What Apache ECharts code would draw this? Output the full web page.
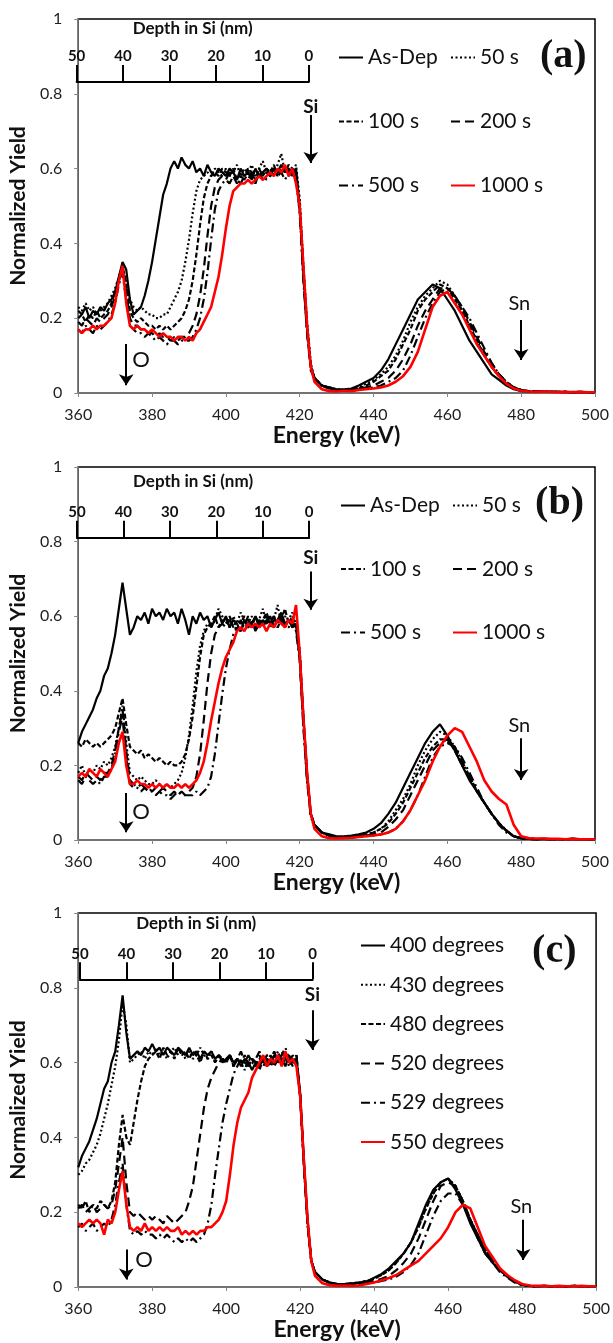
<!DOCTYPE html>
<html>
<head>
<meta charset="utf-8">
<script src="https://cdn.jsdelivr.net/npm/echarts@6/dist/echarts.min.js"></script>
<style>
html,body{margin:0;padding:0;background:#fff;}
#chart{width:613px;height:1343px;}
</style>
</head>
<body>
<div id="chart"></div>
<script>
// Energy grid (keV)
const E = [360,361,362,363,364,365,366,367,368,369,
370,371,372,373,374,375,376,377,378,379,
380,381,382,383,384,385,386,387,388,389,
390,391,392,393,394,395,396,397,398,399,
400,401,402,403,404,405,406,407,408,409,
410,411,412,413,414,415,416,417,418,419,
420,421,422,423,424,425,
426,428,430,432,434,436,438,440,442,444,
446,448,450,452,454,456,458,460,462,464,
466,468,470,472,474,476,478,480,482,484,
486,488,490,492,494,496,498,500];

// ---------- Panel (a) ----------
const A_ASDEP = [
0.22,0.21,0.23,0.20,0.22,0.21,0.23,0.22,0.24,0.25,
0.27,0.31,0.35,0.33,0.25,0.21,0.22,0.23,0.26,0.30,
0.35,0.41,0.47,0.53,0.56,0.60,0.62,0.60,0.63,0.61,
0.60,0.62,0.59,0.60,0.58,0.61,0.59,0.58,0.60,0.59,
0.58,0.60,0.59,0.57,0.60,0.58,0.59,0.57,0.60,0.58,
0.59,0.60,0.58,0.60,0.59,0.61,0.59,0.60,0.58,0.60,
0.50,0.33,0.18,0.07,0.04,0.03,
0.02,0.015,0.01,0.01,0.012,0.02,0.03,0.04,0.06,0.09,
0.13,0.17,0.21,0.25,0.27,0.29,0.28,0.25,0.22,0.18,
0.14,0.11,0.08,0.05,0.035,0.02,0.01,0.005,0.004,0.003,
0.004,0.003,0.003,0.002,0.003,0.002,0.002,0.002];
const A_50 = [
0.23,0.22,0.24,0.22,0.23,0.21,0.22,0.23,0.24,0.26,
0.28,0.31,0.33,0.30,0.25,0.23,0.22,0.23,0.22,0.21,
0.21,0.20,0.20,0.21,0.21,0.23,0.25,0.27,0.30,0.35,
0.41,0.48,0.54,0.57,0.58,0.59,0.58,0.60,0.59,0.58,
0.60,0.58,0.59,0.61,0.58,0.60,0.59,0.61,0.58,0.60,
0.62,0.59,0.60,0.58,0.61,0.64,0.59,0.60,0.59,0.61,
0.52,0.34,0.19,0.08,0.04,0.03,
0.02,0.015,0.01,0.008,0.01,0.015,0.025,0.035,0.05,0.07,
0.10,0.14,0.19,0.23,0.26,0.28,0.30,0.29,0.26,0.22,
0.18,0.14,0.10,0.07,0.045,0.025,0.015,0.008,0.005,0.004,
0.004,0.003,0.003,0.003,0.002,0.003,0.002,0.002];
const A_100 = [
0.20,0.21,0.19,0.21,0.20,0.22,0.20,0.21,0.22,0.24,
0.27,0.31,0.34,0.29,0.22,0.20,0.19,0.20,0.19,0.18,
0.18,0.17,0.18,0.17,0.18,0.17,0.18,0.19,0.20,0.22,
0.25,0.30,0.37,0.45,0.52,0.56,0.58,0.59,0.58,0.60,
0.59,0.58,0.60,0.57,0.59,0.58,0.60,0.59,0.57,0.60,
0.58,0.60,0.59,0.61,0.58,0.60,0.59,0.61,0.60,0.59,
0.50,0.32,0.17,0.07,0.04,0.03,
0.02,0.012,0.008,0.008,0.01,0.012,0.02,0.03,0.045,0.06,
0.09,0.13,0.17,0.22,0.25,0.27,0.29,0.28,0.25,0.22,
0.18,0.14,0.10,0.07,0.045,0.025,0.015,0.008,0.005,0.004,
0.004,0.003,0.003,0.003,0.002,0.003,0.002,0.002];
const A_200 = [
0.19,0.18,0.20,0.19,0.18,0.20,0.19,0.20,0.21,0.23,
0.26,0.30,0.33,0.27,0.20,0.18,0.18,0.17,0.17,0.16,
0.16,0.15,0.16,0.15,0.15,0.14,0.15,0.14,0.15,0.15,
0.16,0.18,0.21,0.26,0.33,0.42,0.50,0.55,0.57,0.58,
0.57,0.59,0.58,0.56,0.58,0.57,0.59,0.58,0.56,0.59,
0.57,0.59,0.58,0.60,0.58,0.59,0.60,0.58,0.59,0.58,
0.49,0.31,0.16,0.07,0.04,0.03,
0.02,0.012,0.008,0.006,0.008,0.01,0.015,0.02,0.03,0.04,
0.06,0.09,0.13,0.18,0.22,0.25,0.28,0.28,0.26,0.23,
0.19,0.15,0.11,0.08,0.05,0.03,0.015,0.008,0.005,0.004,
0.004,0.003,0.003,0.003,0.002,0.003,0.002,0.002];
const A_500 = [
0.17,0.16,0.18,0.17,0.16,0.18,0.17,0.18,0.19,0.21,
0.24,0.29,0.32,0.25,0.18,0.17,0.16,0.16,0.15,0.16,
0.15,0.14,0.15,0.14,0.13,0.14,0.14,0.13,0.14,0.14,
0.14,0.15,0.17,0.20,0.25,0.32,0.41,0.49,0.54,0.56,
0.57,0.56,0.58,0.57,0.56,0.58,0.57,0.59,0.57,0.58,
0.59,0.57,0.58,0.60,0.58,0.59,0.57,0.59,0.60,0.58,
0.48,0.30,0.16,0.06,0.04,0.03,
0.02,0.012,0.008,0.006,0.008,0.01,0.012,0.015,0.02,0.03,
0.04,0.06,0.10,0.15,0.20,0.24,0.27,0.28,0.26,0.23,
0.20,0.16,0.12,0.08,0.05,0.03,0.015,0.008,0.005,0.004,
0.004,0.003,0.003,0.003,0.002,0.003,0.002,0.002];
const A_1000 = [
0.17,0.16,0.17,0.17,0.18,0.17,0.18,0.18,0.19,0.20,
0.24,0.30,0.34,0.24,0.18,0.17,0.18,0.17,0.17,0.16,
0.17,0.16,0.15,0.16,0.15,0.15,0.14,0.15,0.15,0.14,
0.15,0.14,0.16,0.17,0.19,0.21,0.23,0.27,0.31,0.37,
0.44,0.50,0.54,0.55,0.56,0.56,0.57,0.56,0.57,0.58,
0.57,0.58,0.59,0.58,0.60,0.59,0.61,0.58,0.60,0.56,
0.50,0.34,0.18,0.07,0.03,0.02,
0.01,0.005,0.004,0.006,0.005,0.008,0.01,0.012,0.015,0.02,
0.03,0.045,0.07,0.11,0.17,0.23,0.26,0.27,0.24,0.21,
0.17,0.13,0.10,0.07,0.045,0.025,0.012,0.006,0.004,0.003,
0.004,0.003,0.002,0.003,0.002,0.003,0.002,0.002];

// ---------- Panel (b) ----------
const B_ASDEP = [
0.26,0.29,0.31,0.33,0.35,0.38,0.40,0.44,0.46,0.50,
0.55,0.62,0.69,0.62,0.55,0.57,0.60,0.59,0.61,0.58,
0.62,0.60,0.61,0.59,0.62,0.60,0.61,0.58,0.62,0.59,
0.55,0.60,0.58,0.61,0.59,0.60,0.57,0.59,0.61,0.58,
0.60,0.57,0.59,0.58,0.56,0.59,0.57,0.58,0.60,0.57,
0.59,0.58,0.60,0.57,0.59,0.61,0.58,0.59,0.57,0.58,
0.50,0.33,0.18,0.07,0.04,0.03,
0.02,0.015,0.01,0.01,0.012,0.015,0.02,0.03,0.045,0.07,
0.10,0.14,0.18,0.22,0.26,0.29,0.31,0.28,0.24,0.20,
0.16,0.13,0.10,0.07,0.045,0.025,0.01,0.004,0.003,0.002,
0.003,0.002,0.002,0.002,0.003,0.002,0.002,0.002];
const B_50 = [
0.18,0.20,0.17,0.19,0.18,0.20,0.19,0.21,0.20,0.22,
0.25,0.30,0.36,0.26,0.18,0.17,0.16,0.17,0.16,0.15,
0.15,0.16,0.15,0.14,0.15,0.14,0.15,0.16,0.18,0.22,
0.28,0.36,0.45,0.52,0.56,0.58,0.57,0.59,0.62,0.60,
0.59,0.57,0.60,0.58,0.61,0.59,0.58,0.60,0.57,0.59,
0.62,0.58,0.60,0.59,0.63,0.58,0.60,0.59,0.61,0.58,
0.51,0.33,0.17,0.07,0.04,0.03,
0.02,0.012,0.008,0.008,0.01,0.012,0.015,0.02,0.03,0.05,
0.08,0.11,0.15,0.20,0.24,0.27,0.29,0.28,0.25,0.21,
0.17,0.13,0.10,0.07,0.045,0.025,0.01,0.005,0.003,0.002,
0.003,0.002,0.002,0.002,0.003,0.002,0.002,0.002];
const B_100 = [
0.26,0.25,0.27,0.26,0.25,0.26,0.25,0.26,0.27,0.28,
0.30,0.34,0.38,0.31,0.25,0.24,0.23,0.24,0.22,0.23,
0.22,0.21,0.22,0.21,0.20,0.21,0.20,0.20,0.21,0.23,
0.27,0.33,0.41,0.49,0.55,0.57,0.58,0.60,0.57,0.59,
0.58,0.60,0.57,0.59,0.58,0.60,0.59,0.57,0.60,0.58,
0.59,0.61,0.58,0.60,0.57,0.59,0.62,0.58,0.60,0.57,
0.50,0.32,0.17,0.07,0.04,0.03,
0.02,0.012,0.008,0.008,0.01,0.012,0.015,0.02,0.03,0.045,
0.07,0.10,0.14,0.18,0.22,0.25,0.27,0.27,0.24,0.20,
0.17,0.13,0.10,0.07,0.045,0.025,0.01,0.005,0.003,0.002,
0.003,0.002,0.002,0.002,0.003,0.002,0.002,0.002];
const B_200 = [
0.17,0.16,0.18,0.17,0.16,0.17,0.16,0.18,0.18,0.20,
0.24,0.30,0.35,0.24,0.16,0.15,0.14,0.15,0.14,0.14,
0.13,0.14,0.13,0.14,0.13,0.12,0.13,0.12,0.13,0.12,
0.13,0.14,0.17,0.23,0.32,0.42,0.50,0.55,0.57,0.58,
0.57,0.59,0.58,0.56,0.59,0.57,0.60,0.58,0.57,0.59,
0.58,0.60,0.57,0.59,0.58,0.60,0.57,0.59,0.58,0.57,
0.49,0.31,0.16,0.07,0.04,0.03,
0.02,0.012,0.008,0.006,0.008,0.01,0.012,0.015,0.02,0.035,
0.055,0.08,0.12,0.16,0.20,0.24,0.26,0.27,0.25,0.21,
0.17,0.13,0.10,0.07,0.045,0.025,0.01,0.005,0.003,0.002,
0.003,0.002,0.002,0.002,0.003,0.002,0.002,0.002];
const B_500 = [
0.16,0.15,0.17,0.16,0.15,0.16,0.15,0.17,0.17,0.19,
0.23,0.29,0.33,0.22,0.15,0.14,0.14,0.13,0.14,0.13,
0.13,0.12,0.13,0.12,0.12,0.11,0.12,0.13,0.12,0.12,
0.12,0.12,0.13,0.12,0.13,0.14,0.17,0.23,0.31,0.39,
0.46,0.51,0.55,0.57,0.56,0.58,0.57,0.59,0.56,0.58,
0.57,0.59,0.58,0.60,0.57,0.59,0.58,0.57,0.59,0.56,
0.48,0.30,0.16,0.06,0.04,0.03,
0.02,0.01,0.006,0.005,0.006,0.008,0.01,0.012,0.015,0.02,
0.03,0.05,0.08,0.12,0.17,0.22,0.25,0.26,0.25,0.22,
0.18,0.14,0.10,0.07,0.04,0.02,0.01,0.005,0.003,0.002,
0.003,0.002,0.002,0.002,0.003,0.002,0.002,0.002];
const B_1000 = [
0.17,0.18,0.17,0.19,0.18,0.17,0.19,0.18,0.17,0.19,
0.21,0.26,0.29,0.20,0.15,0.15,0.16,0.15,0.15,0.14,
0.15,0.14,0.15,0.14,0.15,0.14,0.14,0.15,0.14,0.15,
0.14,0.15,0.16,0.18,0.21,0.26,0.32,0.37,0.42,0.46,
0.49,0.51,0.53,0.56,0.57,0.56,0.58,0.57,0.58,0.57,
0.58,0.56,0.58,0.57,0.59,0.58,0.57,0.59,0.58,0.63,
0.50,0.33,0.18,0.07,0.03,0.02,
0.01,0.005,0.004,0.005,0.006,0.008,0.01,0.012,0.015,0.02,
0.03,0.05,0.08,0.12,0.16,0.21,0.25,0.28,0.30,0.29,
0.25,0.21,0.16,0.13,0.11,0.095,0.04,0.01,0.005,0.004,
0.004,0.003,0.003,0.002,0.003,0.002,0.002,0.002];

// ---------- Panel (c) ----------
const C_400 = [
0.32,0.35,0.37,0.39,0.42,0.45,0.49,0.53,0.55,0.60,
0.63,0.70,0.78,0.68,0.61,0.62,0.63,0.62,0.64,0.63,
0.65,0.63,0.64,0.62,0.64,0.63,0.62,0.64,0.63,0.62,
0.64,0.62,0.63,0.61,0.63,0.62,0.63,0.61,0.62,0.60,
0.61,0.62,0.60,0.61,0.59,0.61,0.60,0.58,0.60,0.59,
0.61,0.59,0.60,0.62,0.60,0.61,0.59,0.62,0.60,0.61,
0.52,0.34,0.18,0.07,0.04,0.03,
0.02,0.012,0.008,0.008,0.01,0.012,0.015,0.025,0.035,0.05,
0.07,0.09,0.12,0.17,0.22,0.26,0.28,0.29,0.26,0.22,
0.17,0.13,0.09,0.065,0.045,0.028,0.015,0.006,0.003,0.002,
0.003,0.002,0.002,0.002,0.003,0.002,0.002,0.002];
const C_430 = [
0.30,0.31,0.33,0.34,0.36,0.38,0.41,0.45,0.49,0.54,
0.59,0.66,0.76,0.70,0.60,0.61,0.62,0.63,0.61,0.63,
0.62,0.64,0.62,0.63,0.61,0.63,0.64,0.62,0.63,0.61,
0.63,0.61,0.62,0.64,0.62,0.61,0.63,0.60,0.62,0.61,
0.60,0.62,0.59,0.61,0.60,0.58,0.61,0.60,0.59,0.61,
0.60,0.62,0.59,0.61,0.63,0.60,0.62,0.59,0.61,0.60,
0.51,0.33,0.17,0.07,0.04,0.03,
0.02,0.012,0.008,0.008,0.01,0.012,0.016,0.022,0.032,0.045,
0.065,0.09,0.12,0.16,0.21,0.25,0.28,0.29,0.27,0.23,
0.18,0.14,0.10,0.07,0.045,0.028,0.015,0.006,0.003,0.002,
0.003,0.002,0.002,0.002,0.003,0.002,0.002,0.002];
const C_480 = [
0.22,0.21,0.23,0.20,0.22,0.21,0.23,0.22,0.21,0.23,
0.28,0.38,0.46,0.40,0.38,0.44,0.50,0.55,0.59,0.61,
0.62,0.63,0.61,0.64,0.62,0.63,0.61,0.64,0.62,0.63,
0.61,0.63,0.62,0.60,0.63,0.61,0.62,0.60,0.62,0.61,
0.60,0.62,0.59,0.61,0.60,0.62,0.59,0.61,0.60,0.58,
0.61,0.60,0.62,0.59,0.61,0.62,0.60,0.61,0.59,0.62,
0.51,0.33,0.17,0.07,0.04,0.03,
0.02,0.012,0.008,0.008,0.01,0.012,0.016,0.022,0.032,0.045,
0.065,0.09,0.12,0.16,0.21,0.25,0.28,0.29,0.27,0.23,
0.18,0.14,0.10,0.07,0.045,0.028,0.015,0.006,0.003,0.002,
0.003,0.002,0.002,0.002,0.003,0.002,0.002,0.002];
const C_520 = [
0.21,0.22,0.20,0.21,0.22,0.20,0.21,0.22,0.21,0.22,
0.26,0.33,0.40,0.28,0.20,0.19,0.20,0.19,0.18,0.19,
0.18,0.19,0.18,0.17,0.19,0.18,0.17,0.18,0.19,0.20,
0.23,0.27,0.34,0.41,0.48,0.53,0.56,0.58,0.60,0.61,
0.60,0.62,0.59,0.61,0.63,0.60,0.59,0.61,0.60,0.62,
0.59,0.61,0.60,0.62,0.60,0.63,0.61,0.60,0.62,0.60,
0.51,0.33,0.17,0.07,0.04,0.03,
0.02,0.012,0.008,0.006,0.008,0.01,0.012,0.016,0.022,0.03,
0.045,0.065,0.09,0.13,0.18,0.23,0.27,0.28,0.27,0.23,
0.18,0.14,0.10,0.07,0.045,0.028,0.015,0.006,0.003,0.002,
0.003,0.002,0.002,0.002,0.003,0.002,0.002,0.002];
const C_529 = [
0.16,0.17,0.15,0.16,0.17,0.15,0.16,0.17,0.16,0.18,
0.22,0.28,0.33,0.22,0.15,0.14,0.15,0.14,0.15,0.14,
0.14,0.13,0.14,0.13,0.14,0.13,0.12,0.13,0.12,0.13,
0.12,0.13,0.12,0.13,0.14,0.17,0.22,0.30,0.37,0.44,
0.49,0.53,0.57,0.59,0.61,0.60,0.62,0.60,0.61,0.63,
0.60,0.62,0.61,0.63,0.60,0.62,0.64,0.61,0.60,0.62,
0.51,0.33,0.17,0.07,0.04,0.03,
0.02,0.01,0.006,0.005,0.006,0.008,0.01,0.012,0.016,0.02,
0.028,0.04,0.06,0.09,0.14,0.19,0.23,0.25,0.25,0.22,
0.18,0.13,0.09,0.065,0.04,0.025,0.012,0.005,0.003,0.002,
0.003,0.002,0.002,0.002,0.003,0.002,0.002,0.002];
const C_550 = [
0.17,0.16,0.17,0.18,0.17,0.18,0.17,0.14,0.18,0.17,
0.20,0.26,0.31,0.22,0.16,0.15,0.16,0.15,0.17,0.15,
0.16,0.15,0.16,0.15,0.16,0.15,0.15,0.16,0.14,0.15,
0.14,0.15,0.14,0.15,0.15,0.16,0.16,0.17,0.18,0.20,
0.23,0.30,0.38,0.44,0.48,0.50,0.52,0.56,0.58,0.60,
0.62,0.59,0.61,0.60,0.62,0.59,0.63,0.60,0.61,0.59,
0.51,0.34,0.18,0.07,0.03,0.02,
0.01,0.005,0.003,0.004,0.003,0.004,0.008,0.012,0.018,0.024,
0.032,0.045,0.058,0.07,0.09,0.11,0.13,0.16,0.20,0.22,
0.21,0.16,0.11,0.08,0.05,0.032,0.018,0.008,0.004,0.003,
0.003,0.002,0.003,0.002,0.002,0.003,0.002,0.002];

const NAMES_AB = ['As-Dep','50 s','100 s','200 s','500 s','1000 s'];
const NAMES_C = ['400 degrees','430 degrees','480 degrees','520 degrees','529 degrees','550 degrees'];
const X_TICKS = {min:360, max:500, step:20};
const DEPTH_TICKS = {min:0, max:50, step:10};

const STYLES = [
  {color:'#000', type:'solid', width:2.2},
  {color:'#000', type:[2,2.5], width:2.2},
  {color:'#000', type:[5,2.5], width:2.2},
  {color:'#000', type:[9,5], width:2.2},
  {color:'#000', type:[9,4,2,4], width:2.2},
  {color:'#ff0000', type:'solid', width:2.6}
];

const FONT = 'Lato';
const pairs = vals => E.map((e,i)=>[e, vals[i]]);

// layout of the three panels
const PANELS = [
  {left:72.7, right:18, top:19, height:374, depthLeft:76.6, depthWidth:232.2, depthTop:81, depthNameGap:44},
  {left:73, right:18, top:467, height:373, depthLeft:76.9, depthWidth:232.3, depthTop:536.7, depthNameGap:47},
  {left:76, right:14.5, top:913, height:374, depthLeft:79.9, depthWidth:232.7, depthTop:978.3, depthNameGap:46}
];

const grids = [], xAxes = [], yAxes = [], series = [];
PANELS.forEach((p,i)=>{
  grids.push({left:p.left, right:p.right, top:p.top, height:p.height, show:true, borderColor:'#000', borderWidth:1.5, backgroundColor:'transparent'});
  xAxes.push({gridIndex:i, type:'value', min:X_TICKS.min, max:X_TICKS.max, interval:X_TICKS.step,
    axisLine:{show:true, onZero:false, lineStyle:{color:'#858585', width:1.5}},
    axisTick:{show:true, length:4, lineStyle:{color:'#858585'}},
    axisLabel:{fontSize:16, color:'#1e1e1e', margin:14, fontFamily:FONT},
    splitLine:{show:false},
    name:'Energy (keV)', nameLocation:'middle', nameGap:28,
    nameTextStyle:{fontSize:23, fontWeight:'bold', color:'#111', fontFamily:FONT}});
  yAxes.push({gridIndex:i, type:'value', min:0, max:1, interval:0.2,
    axisLine:{show:true, lineStyle:{color:'#858585', width:1.5}},
    axisTick:{show:true, length:4, lineStyle:{color:'#858585'}},
    axisLabel:{fontSize:16, color:'#1e1e1e', margin:16, fontFamily:FONT},
    splitLine:{show:false},
    name:'Normalized Yield', nameLocation:'middle', nameGap:41, nameRotate:90,
    nameTextStyle:{fontSize:21, fontWeight:'bold', color:'#111', fontFamily:FONT}});
});
// depth axes (secondary scale inside each panel)
PANELS.forEach((p,i)=>{
  const gi = 3+i;
  grids.push({left:p.depthLeft, width:p.depthWidth, top:p.depthTop, height:1, show:false});
  xAxes.push({gridIndex:gi, type:'value', position:'top', min:DEPTH_TICKS.min, max:DEPTH_TICKS.max, interval:DEPTH_TICKS.step, inverse:true,
    axisLine:{show:true, lineStyle:{color:'#000', width:2}},
    axisTick:{show:true, length:17, lineStyle:{color:'#000', width:2}},
    axisLabel:{fontSize:15, fontWeight:'bold', color:'#111', margin:17, fontFamily:FONT},
    splitLine:{show:false},
    name:'Depth in Si (nm)', nameLocation:'middle', nameGap:p.depthNameGap,
    nameTextStyle:{fontSize:17, fontWeight:'bold', color:'#111', fontFamily:FONT}});
  yAxes.push({gridIndex:gi, type:'value', min:0, max:1, show:false});
});

const DATA = [
  [A_ASDEP, A_50, A_100, A_200, A_500, A_1000],
  [B_ASDEP, B_50, B_100, B_200, B_500, B_1000],
  [C_400, C_430, C_480, C_520, C_529, C_550]
];
const ANN = [
  {si:[423,0.765], siA:[[423,0.743],[423,0.615]], sn:[479.5,0.24], snA:[[480,0.195],[480,0.088]], o:[377,0.088], oA:[[373,0.131],[373,0.021]], tag:'(a)', tagAt:[491.4,0.898]},
  {si:[423,0.756], siA:[[423,0.72],[423,0.617]], sn:[479.5,0.308], snA:[[480,0.273],[480,0.161]], o:[377,0.076], oA:[[373,0.126],[373,0.021]], tag:'(b)', tagAt:[490.4,0.903]},
  {si:[423.3,0.78], siA:[[423.3,0.74],[423.3,0.634]], sn:[479.8,0.215], snA:[[480.3,0.18],[480.3,0.072]], o:[377.8,0.072], oA:[[373,0.1],[373,0.02]], tag:'(c)', tagAt:[488.7,0.897]}
];

DATA.forEach((set,pi)=>{
  const names = pi<2 ? NAMES_AB : NAMES_C;
  set.forEach((vals,si)=>{
    const s = {type:'line', name:names[si], xAxisIndex:pi, yAxisIndex:pi, data:pairs(vals),
      symbol:'none', showSymbol:false, lineStyle:Object.assign({}, STYLES[si]), itemStyle:{color:STYLES[si].color},
      silent:true, z: si===5 ? 3 : 2};
    if(si===0){
      const a = ANN[pi];
      const lbl = (txt, sz, bold, fam)=>({show:true, position:'inside', formatter:txt, fontSize:sz, fontWeight:bold?'bold':'normal', color:'#111', fontFamily:fam||FONT});
      s.markPoint = {symbol:'circle', symbolSize:1, itemStyle:{color:'transparent'}, silent:true, animation:false,
        data:[
          {coord:a.si, label:lbl('Si',19,true)},
          {coord:a.sn, label:lbl('Sn',20,false)},
          {coord:a.o, label:lbl('O',22,false)},
          {coord:a.tagAt, label:lbl(a.tag,40,true,'Liberation Serif')}
        ]};
      s.markLine = {symbol:['none','arrow'], symbolSize:11, silent:true, animation:false,
        lineStyle:{color:'#000', type:'solid', width:2}, label:{show:false},
        data:[
          [{coord:a.siA[0]},{coord:a.siA[1]}],
          [{coord:a.snA[0]},{coord:a.snA[1]}],
          [{coord:a.oA[0]},{coord:a.oA[1]}]
        ]};
    }
    series.push(s);
  });
});

const legendBase = {orient:'vertical', itemWidth:24, itemHeight:14, padding:0,
  itemStyle:{opacity:0},
  textStyle:{fontSize:21, color:'#111', fontFamily:FONT, lineHeight:20}, selectedMode:false};
const legends = [
  Object.assign({}, legendBase, {left:338, top:47, itemGap:43, data:['As-Dep','100 s','500 s']}),
  Object.assign({}, legendBase, {left:450, top:47, itemGap:43, data:['50 s','200 s','1000 s']}),
  Object.assign({}, legendBase, {left:340, top:495, itemGap:42.5, data:['As-Dep','100 s','500 s']}),
  Object.assign({}, legendBase, {left:452, top:495, itemGap:42.5, data:['50 s','200 s','1000 s']}),
  Object.assign({}, legendBase, {left:360, top:935, itemGap:18.3, data:NAMES_C})
];

const chart = echarts.init(document.getElementById('chart'), null, {renderer:'canvas'});
chart.setOption({
  animation:false,
  backgroundColor:'#fff',
  textStyle:{fontFamily:FONT},
  grid:grids, xAxis:xAxes, yAxis:yAxes, legend:legends, series:series
});
</script>
</body>
</html>
